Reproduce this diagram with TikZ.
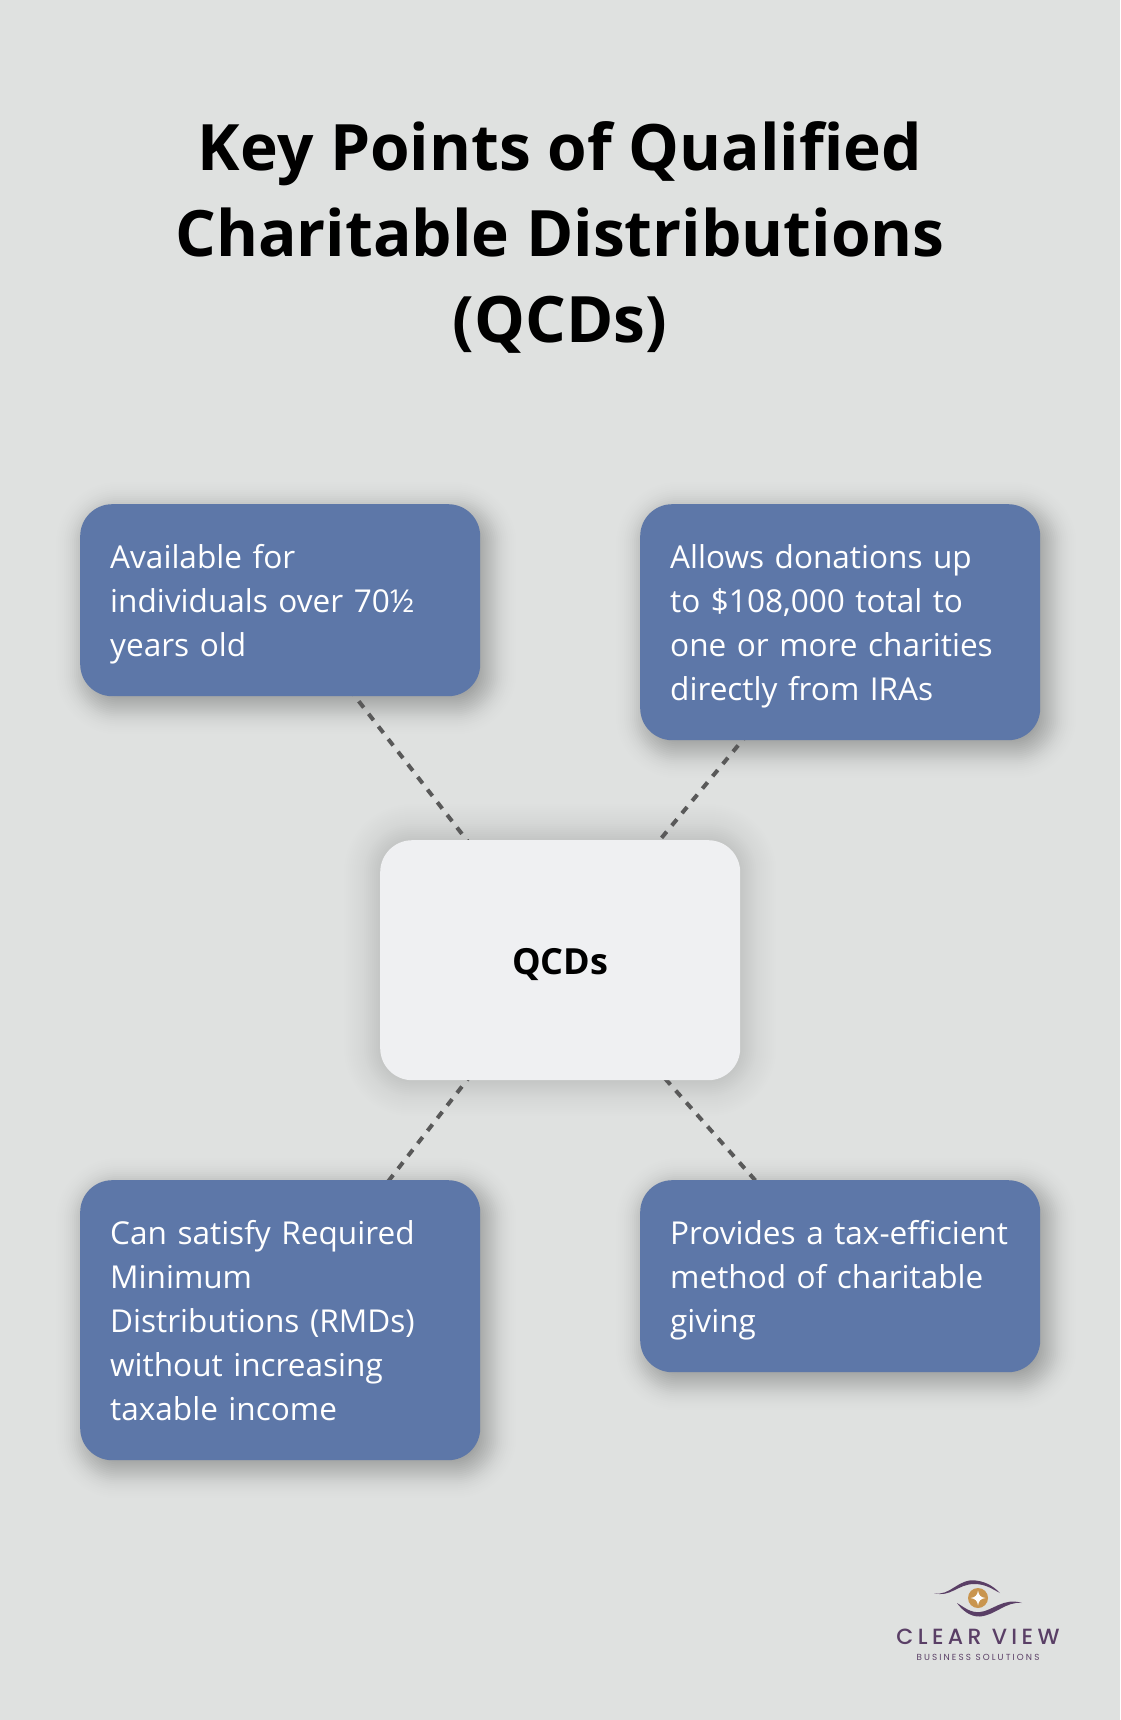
\documentclass[tikz,border=0pt]{standalone}
\usepackage{fontspec}
\setmainfont{Open Sans}
\newfontfamily\logofont[LetterSpace=20]{Poppins Medium}
\newfontfamily\logosub[LetterSpace=24]{Poppins}
\usetikzlibrary{backgrounds}
\definecolor{bgc}{HTML}{DFE1E0}
\definecolor{bluec}{HTML}{5D77A8}
\definecolor{centerc}{HTML}{EFF0F2}
\definecolor{linec}{HTML}{595959}
\definecolor{purp}{HTML}{5A3F66}
\definecolor{goldc}{HTML}{C9954F}
\tikzset{
  titletext/.style={font=\fontsize{64}{86}\selectfont\bfseries,align=center,text=black},
  card/.style={fill=bluec,rounded corners=32pt,text=white,text width=340pt,inner xsep=30pt,inner ysep=0pt,align=left,anchor=north west,
     font=\fontsize{31.55}{44}\selectfont,
     execute at begin node=\rule[-10pt]{0pt}{44pt},execute at end node=\rule[-10pt]{0pt}{44pt}},
  hub/.style={fill=centerc,rounded corners=32pt,minimum width=360pt,minimum height=240pt,inner sep=0pt,anchor=north west,
     font=\fontsize{36}{44}\selectfont\bfseries,text=black},
  link/.style={draw=linec,line width=4pt,dash pattern=on 8pt off 8pt},
}
% #1 node, #2 #3 offset (pt, y up), #4 sigma, #5 peak weight per layer
\newcommand{\softshadow}[5]{%
  \foreach \i in {-50,-48,...,50}{%
    \pgfmathsetmacro{\rr}{max(32-\i,1)}
    \pgfmathsetmacro{\aa}{#5*exp(-\i*\i/(2*#4*#4))}
    \fill[black,opacity=\aa,rounded corners=\rr pt]
      ([shift={(#2pt+\i pt,#3pt+\i pt)}]#1.south west) rectangle ([shift={(#2pt-\i pt,#3pt-\i pt)}]#1.north east);
  }%
}
\begin{document}
\begin{tikzpicture}[x=1pt,y=-1pt]
\useasboundingbox (0,0) rectangle (1120,1720);
\node[titletext] (title) at (560,237.5) {Key Points of Qualified\\Charitable Distributions\\(QCDs)};
\node[card,minimum height=192pt] (a) at (80,504) {Available for\\individuals over 70½\\years old};
\node[card,minimum height=236pt] (b) at (640,504) {Allows donations up\\to \$108,000 total to\\one or more charities\\directly from IRAs};
\node[card,minimum height=280pt] (c) at (80,1180) {Can satisfy Required\\Minimum\\Distributions (RMDs)\\without increasing\\taxable income};
\node[card,minimum height=192pt] (d) at (640,1180) {\mbox{Provides a tax-efficient}\\method of charitable\\giving};
\node[hub] (q) at (380,840) {\smash{\raisebox{-14pt}{QCDs}}};
\begin{scope}[on background layer]
  \fill[bgc] (0,0) rectangle (1120,1720);
  \softshadow{a}{6}{-8}{14}{0.021}
  \softshadow{b}{6}{-8}{14}{0.021}
  \softshadow{c}{6}{-8}{14}{0.021}
  \softshadow{d}{6}{-8}{14}{0.021}
  \softshadow{q}{0}{0}{22}{0.008}
  \draw[link] (a.center) -- (q.center);
  \draw[link] (b.center) -- (q.center);
  \draw[link] (c.center) -- (q.center);
  \draw[link] (d.center) -- (q.center);
\end{scope}
% logo
\fill[purp] (934,1593) .. controls (950,1597) and (958,1578) .. (976,1580.5) .. controls (988,1582) and (995,1588) .. (1000,1593) .. controls (992,1589) and (986,1584) .. (974,1584) .. controls (958,1584) and (950,1598) .. (934,1593) -- cycle;
\fill[purp] (957,1603) .. controls (964,1607) and (970,1613) .. (980,1612) .. controls (992,1611) and (1004,1597) .. (1022,1603) .. controls (1006,1601) and (996,1615) .. (980,1616.5) .. controls (970,1617) and (962,1610) .. (957,1603) -- cycle;
\fill[goldc] (978,1598) circle (10);
\fill[white!95!bgc] (978,1590.5) .. controls (978.8,1595.5) and (980.5,1597.2) .. (985.5,1598) .. controls (980.5,1598.8) and (978.8,1600.5) .. (978,1605.5) .. controls (977.2,1600.5) and (975.5,1598.8) .. (970.5,1598) .. controls (975.5,1597.2) and (977.2,1595.5) .. (978,1590.5) -- cycle;
\node[anchor=base,text=purp,font=\logofont\fontsize{22}{24}\selectfont,inner sep=0pt] (lg) at (978,1644) {CLEAR VIEW};
\node[anchor=base,text=purp,font=\logosub\fontsize{8.8}{10}\selectfont,inner sep=0pt] (lgs) at (978,1660) {BUSINESS SOLUTIONS};
\end{tikzpicture}
\end{document}
